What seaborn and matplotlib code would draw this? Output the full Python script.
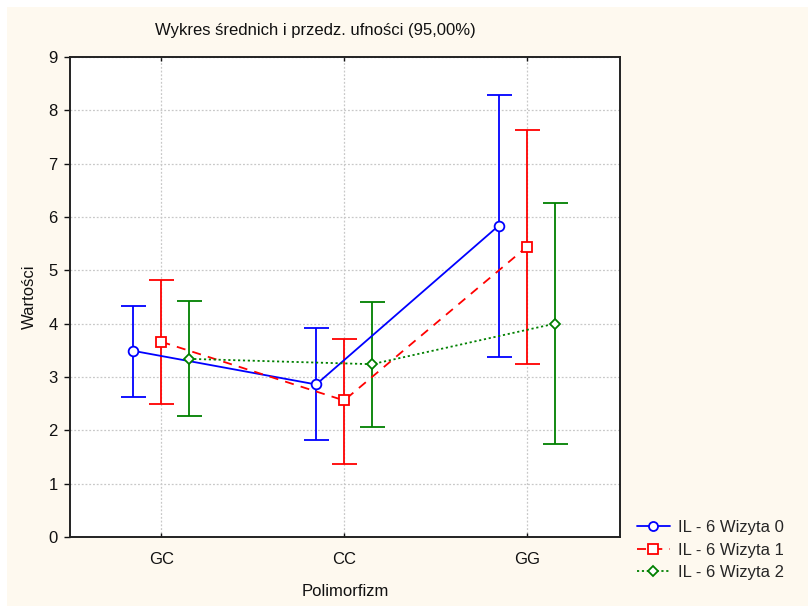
import numpy as np
import pandas as pd
import matplotlib
matplotlib.use("Agg")
import matplotlib.pyplot as plt
import seaborn as sns
from matplotlib.patches import Rectangle

# Means and 95% CI bounds
categories = ["GC", "CC", "GG"]
series = ["IL - 6 Wizyta 0", "IL - 6 Wizyta 1", "IL - 6 Wizyta 2"]
mean_w0 = [3.49, 2.86, 5.84]
low_w0 = [2.63, 1.82, 3.37]
high_w0 = [4.34, 3.92, 8.29]
mean_w1 = [3.66, 2.56, 5.44]
low_w1 = [2.49, 1.37, 3.25]
high_w1 = [4.82, 3.71, 7.63]
mean_w2 = [3.34, 3.24, 4.00]
low_w2 = [2.27, 2.07, 1.74]
high_w2 = [4.42, 4.41, 6.26]

sns.set_theme(style="white")
plt.rcParams["font.family"] = ["Liberation Sans", "DejaVu Sans"]
plt.rcParams["font.size"] = 12

bg = "#FEF9EF"
fig = plt.figure(figsize=(8.08, 6.06), dpi=100, facecolor="white")
fig.patches.append(Rectangle((7 / 808, -0.01), 1, 1.01 - 7 / 606, transform=fig.transFigure,
                             facecolor=bg, edgecolor="none", zorder=-10))
ax = fig.add_axes([70 / 808, 1 - 537 / 606, 550 / 808, 480 / 606])
ax.set_facecolor("white")

styles = [
    dict(color="#0000FF", ls="-", marker="o", ms=7),
    dict(color="#FF0000", ls=(0, (5, 4)), marker="s", ms=7.5),
    dict(color="#008000", ls=(0, (1.2, 1.5)), marker="D", ms=5.5),
]
means = [mean_w0, mean_w1, mean_w2]
lows = [low_w0, low_w1, low_w2]
highs = [high_w0, high_w1, high_w2]
offsets = [-0.153, 0.0, 0.153]

handles = []
for i, name in enumerate(series):
    st = styles[i]
    df = pd.DataFrame({"x": np.arange(len(categories)) + offsets[i], "y": means[i]})
    m = np.array(means[i])
    yerr = [m - np.array(lows[i]), np.array(highs[i]) - m]
    ax.errorbar(df["x"], df["y"], yerr=yerr, fmt="none", ecolor=st["color"],
                elinewidth=1.3, capsize=9, capthick=1.3, zorder=3)
    sns.lineplot(data=df, x="x", y="y", ax=ax, color=st["color"], linestyle=st["ls"],
                 lw=1.3, zorder=4, legend=False)
    ax.plot(df["x"], df["y"], ls="none", marker=st["marker"], ms=st["ms"],
            mfc="white", mec=st["color"], mew=1.3, zorder=5)
    h, = ax.plot([], [], color=st["color"], ls=st["ls"], lw=1.3, marker=st["marker"],
                 ms=st["ms"] - 0.5, mfc="white", mec=st["color"], mew=1.3)
    handles.append(h)

ax.set_xlim(-0.5, 2.51)
ax.set_ylim(0, 9)
ax.set_xticks(range(len(categories)))
ax.set_xticklabels(categories)
ax.set_yticks(range(0, 10))
ax.grid(True, color="#C8C8C8", ls=(0, (1.5, 1.5)), lw=0.9)
ax.set_xlabel("Polimorfizm", fontsize=12, color="#111111", labelpad=12)
ax.set_ylabel("Wartości", fontsize=12, color="#111111", labelpad=8)
for s in ax.spines.values():
    s.set_color("#222222")
    s.set_linewidth(1.4)
ax.tick_params(axis="x", direction="in", top=True, bottom=True, length=3,
               width=1, pad=11, labelsize=12, colors="#111111")
ax.tick_params(axis="y", direction="out", left=True, length=4, width=1,
               pad=5, labelsize=12, colors="#111111")

fig.text(315 / 808, 1 - 30 / 606, "Wykres średnich i przedz. ufności (95,00%)",
         ha="center", va="center", fontsize=12, color="#111111")

fig.legend(handles, series, loc="center left", bbox_to_anchor=(630 / 808, 1 - 550 / 606),
           frameon=False, fontsize=12, handlelength=2.0, handletextpad=0.45,
           labelspacing=0.45, borderaxespad=0)

fig.savefig("out.png", dpi=100, facecolor=fig.get_facecolor())
